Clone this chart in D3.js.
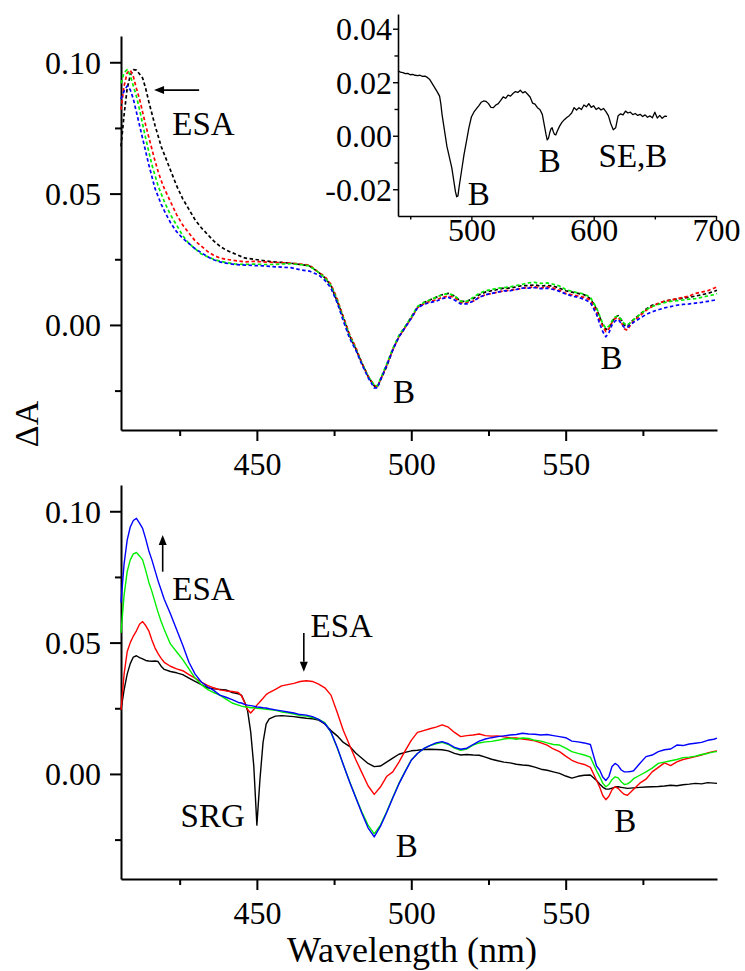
<!DOCTYPE html>
<html><head><meta charset="utf-8">
<script src="https://cdn.jsdelivr.net/npm/d3@7"></script>
<style>
html,body{margin:0;padding:0;background:#fff;}
svg{display:block;}
</style></head><body>
<svg id="chart" width="745" height="971"></svg>
<script>
// ---------- Upper panel: transient spectra (dashed) ----------
const topWl = [406,407,408,409,410,411,412,413,414,415,416,417,418,419,420,
  422,424,426,428,430,432,434,436,438,440,
  443,446,449,452,455,458,461,464,467,470,
  472,474,476,478,480,482,484,486,488,489,490,492,494,496,498,500,502,504,506,508,510,
  512,514,516,518,520,522,524,526,528,530,532,534,536,538,540,542,544,546,548,550,552,554,556,558,560,
  561,562,563,564,565,566,567,568,569,570,571,572,
  574,576,578,580,582,584,586,588,590,592,594,596,598,599];

const topBlack = [0.068,0.080,0.090,0.095,0.0972,0.097,0.0955,0.094,0.090,0.085,0.0805,0.076,0.072,0.068,0.065,
  0.059,0.053,0.048,0.044,0.040,0.037,0.0345,0.032,0.030,0.0285,
  0.027,0.0255,0.025,0.0245,0.024,0.0238,0.0235,0.023,0.0225,0.020,
  0.018,0.015,0.009,0.003,-0.004,-0.009,-0.0145,-0.0195,-0.0232,-0.0238,-0.021,-0.016,-0.0095,-0.0045,-0.001,0.003,0.0068,0.0085,0.0095,0.0105,0.0115,
  0.012,0.011,0.009,0.009,0.010,0.0115,0.0125,0.013,0.0135,0.014,0.014,0.0145,0.015,0.015,0.0152,0.0148,0.015,0.0148,0.014,0.013,0.0125,0.012,0.0115,0.010,0.006,
  0.003,0.000,-0.0018,-0.001,0.001,0.003,0.0035,0.002,0.000,-0.0005,0.001,0.002,
  0.004,0.006,0.0075,0.008,0.009,0.0095,0.0098,0.0102,0.0105,0.011,0.0115,0.012,0.0128,0.0132];

const topRed = [0.082,0.091,0.096,0.097,0.0945,0.090,0.086,0.081,0.076,0.0715,0.067,0.0625,0.0585,0.055,0.052,
  0.047,0.042,0.038,0.035,0.032,0.030,0.028,0.0265,0.0255,0.025,
  0.0245,0.024,0.0242,0.024,0.0238,0.0237,0.0235,0.0232,0.0228,0.020,
  0.0185,0.0155,0.010,0.003,-0.0035,-0.0085,-0.0145,-0.0195,-0.023,-0.0235,-0.021,-0.0155,-0.0095,-0.0045,-0.001,0.0025,0.0065,0.008,0.009,0.0095,0.0105,
  0.011,0.0105,0.0085,0.0085,0.009,0.0105,0.0115,0.012,0.0125,0.013,0.0132,0.0135,0.014,0.0142,0.0145,0.014,0.0145,0.014,0.0132,0.012,0.0115,0.011,0.0105,0.0095,0.005,
  0.002,-0.0005,-0.0025,-0.0015,0.001,0.0025,0.003,0.001,-0.0015,-0.002,0.000,0.0015,
  0.0035,0.0055,0.007,0.0083,0.009,0.0095,0.010,0.0105,0.011,0.012,0.0125,0.013,0.014,0.0145];

const topGreen = [0.092,0.096,0.0972,0.095,0.091,0.087,0.082,0.0765,0.071,0.066,0.061,0.057,0.053,0.050,0.047,
  0.042,0.038,0.034,0.031,0.029,0.027,0.026,0.025,0.0243,0.0238,
  0.0232,0.023,0.0232,0.023,0.023,0.0232,0.0233,0.023,0.0225,0.020,
  0.018,0.015,0.0095,0.0025,-0.004,-0.009,-0.0145,-0.0195,-0.023,-0.0232,-0.0205,-0.015,-0.009,-0.004,-0.0005,0.003,0.007,0.0085,0.0095,0.0105,0.0115,
  0.012,0.0112,0.009,0.009,0.0105,0.012,0.013,0.0135,0.014,0.0142,0.0145,0.015,0.0155,0.016,0.0162,0.0158,0.016,0.0155,0.0148,0.0135,0.0128,0.0122,0.0118,0.0105,0.0065,
  0.0035,0.0005,-0.0012,-0.0005,0.0015,0.003,0.0035,0.002,0.0005,0.000,0.001,0.002,
  0.004,0.0058,0.007,0.0078,0.0085,0.009,0.0092,0.0095,0.0098,0.010,0.0105,0.011,0.0115,0.012];

const topBlue = [0.086,0.089,0.091,0.0895,0.086,0.081,0.076,0.071,0.066,0.061,0.0565,0.052,0.049,0.046,0.0435,
  0.039,0.0355,0.033,0.031,0.029,0.0275,0.026,0.0248,0.024,0.0235,
  0.023,0.0228,0.0226,0.0225,0.0222,0.022,0.0218,0.021,0.0205,0.019,
  0.017,0.014,0.0085,0.0015,-0.005,-0.0095,-0.015,-0.020,-0.024,-0.024,-0.021,-0.0155,-0.0095,-0.0045,-0.001,0.0025,0.0065,0.0078,0.0085,0.009,0.010,
  0.0105,0.0095,0.008,0.008,0.009,0.0105,0.0115,0.012,0.0125,0.013,0.013,0.0135,0.014,0.014,0.0142,0.0138,0.014,0.0135,0.0128,0.0118,0.011,0.0105,0.0098,0.0085,0.004,
  0.0005,-0.0025,-0.0045,-0.003,0.000,0.0015,0.002,0.0005,-0.001,-0.0008,0.000,0.001,
  0.0025,0.004,0.005,0.0058,0.0065,0.007,0.0075,0.0078,0.008,0.0083,0.0086,0.009,0.0094,0.0096];

// ---------- Lower panel: transient spectra (solid) ----------
const botWl = [406,407,408,409,410,411,412,413,414,415,416,417,418,419,420,
  422,424,426,428,430,432,434,436,438,440,442,444,
  445,446,447,448,449,450,451,452,453,454,
  456,458,460,462,464,466,468,470,
  472,474,476,478,480,482,484,486,488,490,
  492,494,496,498,500,502,504,506,508,510,
  512,514,516,518,520,522,524,526,528,530,
  532,534,536,538,540,542,544,546,548,550,
  552,554,556,558,560,
  561,562,563,564,565,566,567,568,569,570,571,572,
  574,576,578,580,582,584,586,588,590,592,594,596,598,599];

const botBlack = [0.0244,0.032,0.038,0.042,0.0445,0.045,0.0443,0.0438,0.0432,0.043,0.0429,0.043,0.0428,0.041,0.0398,
  0.039,0.0385,0.0378,0.0365,0.0352,0.034,0.0328,0.0324,0.0322,0.032,0.031,0.0305,
  0.030,0.0275,0.024,0.016,0.003,-0.0195,-0.002,0.012,0.019,0.021,
  0.022,0.0222,0.022,0.0218,0.0215,0.0212,0.021,0.0205,
  0.019,0.0165,0.0145,0.012,0.0105,0.008,0.006,0.004,0.0028,0.003,
  0.0045,0.006,0.0075,0.0082,0.0088,0.009,0.0093,0.0094,0.0093,0.0092,
  0.0088,0.0078,0.0072,0.0074,0.0072,0.0071,0.0064,0.0056,0.005,0.0045,
  0.0042,0.0037,0.0034,0.0032,0.0026,0.0018,0.0014,0.0008,0.0002,-0.0008,
  -0.0016,-0.0009,-0.0005,-0.0004,-0.0025,
  -0.0038,-0.005,-0.0058,-0.0058,-0.0054,-0.005,-0.0049,-0.0051,-0.0053,-0.0055,-0.0054,-0.0053,
  -0.0051,-0.005,-0.0049,-0.0048,-0.0046,-0.0043,-0.0045,-0.0041,-0.0039,-0.0036,-0.0038,-0.0033,-0.0035,-0.0036];

const botRed = [0.0244,0.038,0.0465,0.050,0.0525,0.0545,0.057,0.058,0.0565,0.0545,0.051,0.048,0.0458,0.044,0.0425,
  0.041,0.040,0.0393,0.0378,0.0365,0.035,0.0337,0.0328,0.032,0.0316,0.0314,0.031,
  0.0298,0.0272,0.0245,0.0232,0.0245,0.0262,0.0275,0.0288,0.0302,0.031,
  0.0322,0.0335,0.034,0.0345,0.0352,0.0355,0.0352,0.0342,
  0.0328,0.030,0.0235,0.0165,0.011,0.0055,0.0005,-0.0045,-0.0078,-0.005,
  -0.001,0.0008,0.0045,0.0088,0.0128,0.0158,0.0165,0.0172,0.0178,0.0187,
  0.0178,0.0158,0.0142,0.0146,0.0148,0.0152,0.0146,0.0144,0.0145,0.0141,
  0.0138,0.0137,0.0133,0.013,0.0126,0.0118,0.011,0.0095,0.0085,0.0068,
  0.0052,0.0042,0.0036,0.0025,-0.0024,
  -0.005,-0.0082,-0.0098,-0.0085,-0.006,-0.0049,-0.0055,-0.0068,-0.0078,-0.0081,-0.007,-0.0058,
  -0.0035,-0.002,0.0008,0.0025,0.0042,0.0032,0.0046,0.0055,0.006,0.0066,0.0072,0.008,0.0086,0.0088];

const botGreen = [0.0537,0.068,0.077,0.0815,0.0838,0.0843,0.083,0.0815,0.0775,0.073,0.0695,0.0655,0.0615,0.058,0.055,
  0.0495,0.0465,0.0435,0.040,0.0365,0.034,0.0322,0.031,0.030,0.0285,0.027,0.0262,
  0.0258,0.0256,0.0255,0.0252,0.0252,0.025,0.0249,0.0248,0.0246,0.0245,
  0.0242,0.0236,0.0233,0.0228,0.0222,0.022,0.0215,0.0208,
  0.0195,0.0158,0.010,0.0035,-0.0028,-0.0088,-0.0145,-0.0195,-0.0228,-0.0195,
  -0.0145,-0.009,-0.0036,0.001,0.0053,0.0078,0.0096,0.0108,0.0115,0.012,
  0.0112,0.0098,0.009,0.0095,0.011,0.0118,0.0122,0.0124,0.0128,0.0133,
  0.0136,0.0132,0.0137,0.0135,0.0128,0.0125,0.0118,0.0112,0.011,0.0098,
  0.0085,0.0078,0.0072,0.0064,0.0012,
  -0.001,-0.0035,-0.0049,-0.004,-0.0022,-0.0011,-0.0015,-0.003,-0.004,-0.0038,-0.003,-0.0018,
  -0.0005,0.0008,0.0022,0.004,0.0045,0.005,0.0055,0.0062,0.0064,0.0068,0.0074,0.0078,0.0084,0.0085];

const botBlue = [0.0652,0.080,0.089,0.094,0.0965,0.0973,0.0955,0.0935,0.0895,0.085,0.0815,0.0775,0.0735,0.070,0.0665,
  0.061,0.055,0.049,0.0425,0.038,0.035,0.0332,0.0318,0.030,0.0292,0.0283,0.0272,
  0.027,0.0265,0.0262,0.026,0.0258,0.0255,0.0254,0.0252,0.0251,0.0248,
  0.0244,0.024,0.0236,0.0232,0.0226,0.0224,0.0218,0.0208,
  0.0192,0.016,0.0102,0.0035,-0.003,-0.009,-0.015,-0.0205,-0.024,-0.020,
  -0.0148,-0.0092,-0.0038,0.0008,0.0052,0.0078,0.0096,0.0108,0.0118,0.0123,
  0.0115,0.0101,0.0094,0.0098,0.0112,0.0125,0.0133,0.0138,0.0142,0.0145,
  0.0148,0.015,0.0155,0.0152,0.0151,0.0148,0.015,0.0146,0.0142,0.0138,
  0.0125,0.0122,0.0118,0.0112,0.003,
  0.0015,-0.0012,-0.0025,-0.001,0.0028,0.004,0.0032,0.0015,0.0008,0.0008,0.0009,0.0012,
  0.004,0.0066,0.0072,0.0085,0.0092,0.0095,0.011,0.0108,0.0114,0.0117,0.012,0.0128,0.0132,0.0136];

// ---------- Inset: difference spectrum [wavelength, ΔA] ----------
const insetSpectrum = [[440,0.0243],[442,0.0238],[444,0.0236],[446,0.0232],[448,0.0233],[450,0.0228],[452,0.0229],
  [454,0.0226],[456,0.0225],[458,0.0226],[460,0.0222],[462,0.0223],[464,0.0218],[466,0.021],[468,0.0195],[470,0.018],
  [472,0.0165],[474,0.0148],[475,0.012],[476,0.008],[478,0.002],[480,-0.004],[482,-0.008],[484,-0.012],[486,-0.018],
  [487,-0.021],[488,-0.0228],[489,-0.0225],[490,-0.019],[492,-0.013],[494,-0.007],[496,-0.002],[498,0.003],[500,0.007],
  [502,0.0088],[504,0.010],[506,0.0112],[508,0.0125],[510,0.013],[512,0.0128],[514,0.012],[516,0.0106],[518,0.0105],
  [520,0.0115],[522,0.012],[524,0.0132],[526,0.0145],[528,0.014],[530,0.0152],[532,0.0148],[534,0.0158],[536,0.0165],
  [538,0.0162],[540,0.017],[542,0.016],[544,0.0165],[546,0.0155],[548,0.0145],[550,0.0122],[552,0.0118],[554,0.0105],
  [556,0.0098],[558,0.008],[560,0.003],[561,0.0005],[562,-0.0015],[563,-0.001],[564,0.001],[565,0.0025],[566,0.003],
  [567,0.0015],[568,0.0005],[569,0.0003],[570,0.0015],[572,0.0035],[574,0.005],[576,0.006],[578,0.0068],[580,0.0075],
  [582,0.0085],[584,0.0105],[586,0.0096],[588,0.0105],[590,0.0098],[592,0.0115],[594,0.0108],[596,0.012],[598,0.0106],
  [600,0.0112],[602,0.0098],[604,0.0105],[606,0.0096],[608,0.0102],[610,0.009],[612,0.0075],[614,0.0045],[616,0.0022],
  [618,0.003],[620,0.0075],[622,0.0082],[624,0.0078],[626,0.0092],[628,0.0085],[630,0.0088],[632,0.0079],[634,0.0083],
  [636,0.0076],[638,0.008],[640,0.0072],[642,0.0078],[644,0.0069],[646,0.0074],[648,0.0067],[650,0.0088],[652,0.0066],
  [654,0.0076],[656,0.0065],[658,0.0073],[660,0.0072]];

// ---------- Ticks ----------
const mainXMajor = [450,500,550];
const mainXMinor = [425,475,525,575];
const mainYMajor = [0.00,0.05,0.10];
const mainYMinor = [-0.025,0.025,0.075];
const insetXMajor = [500,600,700];
const insetXMinor = [450,550,650];
const insetYMajor = [-0.02,0.00,0.02,0.04];
const insetYMinor = [-0.01,0.01,0.03];

// ---------- Annotations (anchored in data units) ----------
const topNotes = [{t:"ESA",wl:422.6,v:0.0723},{t:"B",wl:494.1,v:-0.0296},{t:"B",wl:561.3,v:-0.0169}];
const topArrows = [{wl0:431.3,v0:0.0894,wl1:416.7,v1:0.0894}];
const botNotes = [{t:"ESA",wl:422.6,v:0.0662},{t:"ESA",wl:467.4,v:0.0523},{t:"SRG",wl:425.3,v:-0.0202},
  {t:"B",wl:495,v:-0.0315},{t:"B",wl:565.7,v:-0.022}];
const botArrows = [{wl0:419.5,v0:0.077,wl1:419.5,v1:0.091},{wl0:465.2,v0:0.0537,wl1:465.2,v1:0.0389}];
const insetNotes = [{t:"B",wl:497,v:-0.0259},{t:"B",wl:555,v:-0.0135},{t:"SE,B",wl:604,v:-0.0116}];

const colors = {black:"#000000", red:"#ff0000", green:"#00ee00", blue:"#0000ff"};
const SERIF = '"Liberation Serif", "Times New Roman", Times, "DejaVu Serif", serif';

const svg = d3.select("#chart");

const x = d3.scaleLinear().domain([406,599]).range([121,717]);
const yTop = d3.scaleLinear().domain([-0.040,0.110]).range([430,36]);
const yBot = d3.scaleLinear().domain([-0.040,0.110]).range([879,485]);
const xIn = d3.scaleLinear().domain([440,700]).range([398,716]);
const yIn = d3.scaleLinear().domain([-0.030,0.0455]).range([216,14]);

function seriesLine(xs, ys) {
  return d3.line().x(d => xs(d[0])).y(d => ys(d[1]));
}

function drawAxes(xs, ys, o) {
  const g = svg.append("g");
  const y0 = ys.range()[0];
  const x0 = xs.range()[0];
  // minor ticks
  g.append("g").attr("transform", `translate(0,${y0})`)
    .call(d3.axisBottom(xs).tickValues(o.xMinor).tickSize(o.minorLen).tickSizeOuter(0).tickFormat(""))
    .call(s => s.select(".domain").remove());
  g.append("g").attr("transform", `translate(${x0},0)`)
    .call(d3.axisLeft(ys).tickValues(o.yMinor).tickSize(o.minorLen).tickSizeOuter(0).tickFormat(""))
    .call(s => s.select(".domain").remove());
  // major ticks + labels
  const ax = g.append("g").attr("transform", `translate(0,${y0})`)
    .call(d3.axisBottom(xs).tickValues(o.xMajor).tickSize(o.majorLen).tickSizeOuter(0).tickFormat(d3.format("d")));
  ax.selectAll("text").attr("y", o.xLabelY).attr("dy", 0);
  const ay = g.append("g").attr("transform", `translate(${x0},0)`)
    .call(d3.axisLeft(ys).tickValues(o.yMajor).tickSize(o.majorLen).tickSizeOuter(0).tickFormat(d => d3.format(".2f")(d).replace("−","-")));
  ay.selectAll("text").attr("x", -o.yLabelX).attr("dy", "0.34em");
  g.selectAll("g").attr("font-family", SERIF).attr("font-size", o.fontSize);
  g.selectAll("path.domain").attr("stroke", "#000").attr("stroke-width", o.axisW);
  g.selectAll(".tick line").attr("stroke", "#000").attr("stroke-width", o.tickW);
  g.selectAll("text").style("font-family", SERIF).style("font-size", o.fontSize + "px").attr("fill", "#000");
  return g;
}

const mainAxisOpts = {xMajor:mainXMajor, xMinor:mainXMinor, yMajor:mainYMajor, yMinor:mainYMinor,
  majorLen:11, minorLen:6, xLabelY:45, yLabelX:20, axisW:2, tickW:2, fontSize:32};

function addText(g, xPos, yPos, str, size) {
  return g.append("text").attr("x", xPos).attr("y", yPos)
    .style("font-family", SERIF).style("font-size", size + "px").attr("fill", "#000").text(str);
}

function drawPanel(ys, wl, series, dashed, notes, arrows) {
  drawAxes(x, ys, mainAxisOpts);
  const g = svg.append("g");
  series.forEach(s => {
    const pts = wl.map((w, i) => [w, s.values[i]]);
    g.append("path").datum(pts)
      .attr("d", seriesLine(x, ys))
      .attr("fill", "none")
      .attr("stroke", s.color)
      .attr("stroke-width", dashed ? 1.7 : 1.4)
      .attr("stroke-dasharray", dashed ? "3.5,2.5" : null)
      .attr("stroke-linejoin", "round");
  });
  notes.forEach(n => addText(g, x(n.wl), ys(n.v), n.t, 33));
  arrows.forEach(a => drawArrow(g, x(a.wl0), ys(a.v0), x(a.wl1), ys(a.v1)));
}

function drawArrow(g, x0, y0, x1, y1) {
  const ang = Math.atan2(y1 - y0, x1 - x0);
  const len = 10, half = 4;
  const bx = x1 - len * Math.cos(ang), by = y1 - len * Math.sin(ang);
  g.append("line").attr("x1", x0).attr("y1", y0).attr("x2", bx).attr("y2", by)
    .attr("stroke", "#000").attr("stroke-width", 1.6);
  const px = -Math.sin(ang) * half, py = Math.cos(ang) * half;
  g.append("path")
    .attr("d", `M${x1},${y1}L${bx + px},${by + py}L${bx - px},${by - py}Z`)
    .attr("fill", "#000");
}

drawPanel(yTop, topWl, [
  {values: topBlack, color: colors.black},
  {values: topRed, color: colors.red},
  {values: topGreen, color: colors.green},
  {values: topBlue, color: colors.blue}
], true, topNotes, topArrows);

drawPanel(yBot, botWl, [
  {values: botBlack, color: colors.black},
  {values: botRed, color: colors.red},
  {values: botGreen, color: colors.green},
  {values: botBlue, color: colors.blue}
], false, botNotes, botArrows);

// inset
drawAxes(xIn, yIn, {xMajor:insetXMajor, xMinor:insetXMinor, yMajor:insetYMajor, yMinor:insetYMinor,
  majorLen:5, minorLen:3.5, xLabelY:25, yLabelX:6, axisW:1.6, tickW:1.4, fontSize:32});
const gi = svg.append("g");
gi.append("path").datum(insetSpectrum)
  .attr("d", seriesLine(xIn, yIn))
  .attr("fill", "none").attr("stroke", "#000").attr("stroke-width", 1.3).attr("stroke-linejoin", "round");
insetNotes.forEach(n => addText(gi, xIn(n.wl), yIn(n.v), n.t, 33));

// axis titles
addText(svg, 0, 0, "ΔA", 34).attr("transform", "translate(38,424) rotate(-90)").attr("text-anchor", "middle");
addText(svg, 412, 962, "Wavelength (nm)", 36).attr("text-anchor", "middle");

[[topWl,topBlack],[topWl,topRed],[topWl,topGreen],[topWl,topBlue],
 [botWl,botBlack],[botWl,botRed],[botWl,botGreen],[botWl,botBlue]].forEach(([a,b],i)=>{
  if (a.length !== b.length) console.error("series length mismatch", i, a.length, b.length);
});
</script>
</body></html>
